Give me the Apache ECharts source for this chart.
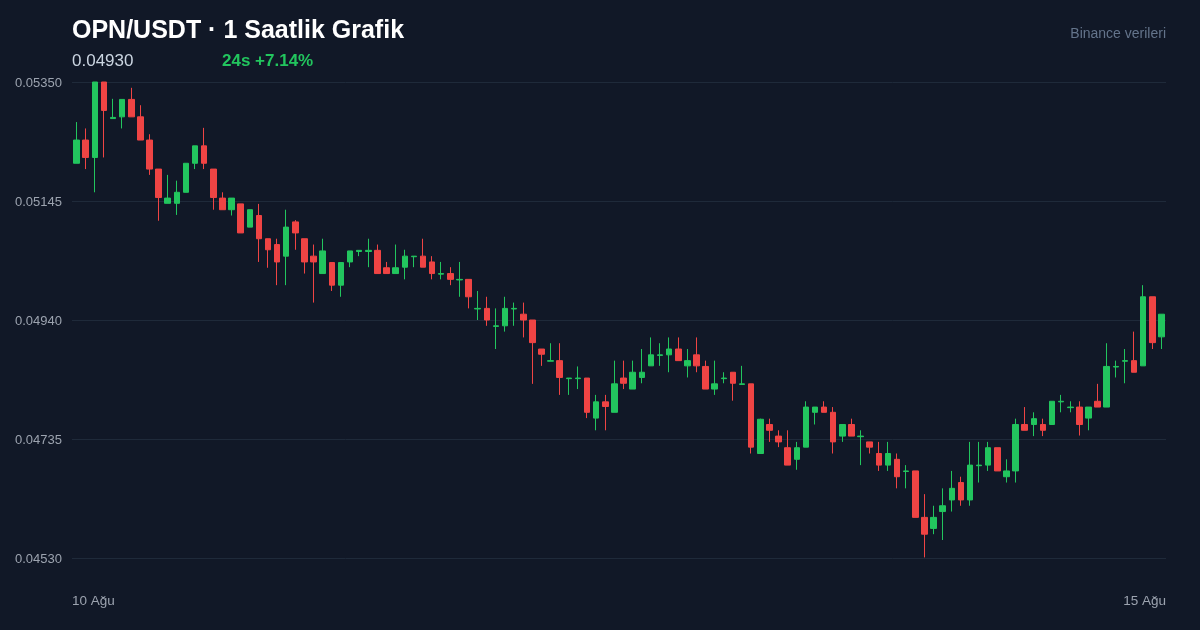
<!DOCTYPE html>
<html>
<head>
<meta charset="utf-8">
<script src="https://cdn.jsdelivr.net/npm/echarts@6/dist/echarts.min.js"></script>
<style>
html,body{margin:0;padding:0;background:#111827;}
#chart{width:1200px;height:630px;}
</style>
</head>
<body>
<div id="chart"></div>
<script>
// ---- data (1h candles, 10 Ağu -> 15 Ağu) ----
const opens = [
0.05210,0.05250,0.05220,0.05350,0.05287,0.05290,0.05320,0.05290,0.05250,0.05200,
0.05141,0.05141,0.05160,0.05210,0.05240,0.05200,0.05150,0.05130,0.05140,0.05100,
0.05120,0.05080,0.05070,0.05050,0.05109,0.05080,0.05050,0.05020,0.05039,0.05000,
0.05040,0.05058,0.05058,0.05060,0.05030,0.05020,0.05031,0.05049,0.05050,0.05040,
0.05019,0.05020,0.05009,0.05010,0.04959,0.04960,0.04929,0.04930,0.04959,0.04950,
0.04940,0.04890,0.04869,0.04870,0.04839,0.04839,0.04840,0.04771,0.04799,0.04781,
0.04840,0.04821,0.04841,0.04861,0.04879,0.04880,0.04890,0.04861,0.04880,0.04860,
0.04821,0.04839,0.04850,0.04829,0.04830,0.04710,0.04760,0.04740,0.04720,0.04700,
0.04721,0.04781,0.04790,0.04781,0.04740,0.04760,0.04739,0.04730,0.04710,0.04690,
0.04700,0.04679,0.04680,0.04600,0.04581,0.04610,0.04630,0.04660,0.04630,0.04689,
0.04690,0.04720,0.04670,0.04680,0.04760,0.04760,0.04760,0.04760,0.04799,0.04789,
0.04790,0.04771,0.04800,0.04790,0.04859,0.04869,0.04870,0.04861,0.04980,0.04911
];
const closes = [
0.05250,0.05220,0.05350,0.05301,0.05289,0.05320,0.05290,0.05250,0.05200,0.05151,
0.05150,0.05160,0.05210,0.05240,0.05210,0.05151,0.05130,0.05150,0.05090,0.05130,
0.05080,0.05061,0.05040,0.05100,0.05090,0.05040,0.05040,0.05059,0.05000,0.05039,
0.05059,0.05060,0.05060,0.05020,0.05020,0.05030,0.05050,0.05050,0.05031,0.05020,
0.05020,0.05010,0.05010,0.04980,0.04960,0.04940,0.04930,0.04960,0.04960,0.04940,
0.04901,0.04881,0.04870,0.04841,0.04840,0.04840,0.04781,0.04799,0.04791,0.04830,
0.04831,0.04850,0.04850,0.04880,0.04880,0.04890,0.04870,0.04870,0.04861,0.04821,
0.04830,0.04840,0.04831,0.04830,0.04721,0.04769,0.04750,0.04730,0.04690,0.04720,
0.04790,0.04790,0.04781,0.04730,0.04760,0.04740,0.04740,0.04721,0.04690,0.04710,
0.04670,0.04680,0.04600,0.04571,0.04600,0.04620,0.04650,0.04630,0.04690,0.04690,
0.04720,0.04680,0.04680,0.04760,0.04750,0.04770,0.04750,0.04800,0.04800,0.04790,
0.04760,0.04790,0.04790,0.04860,0.04860,0.04870,0.04850,0.04980,0.04901,0.04950
];
const lows = [
0.05210,0.05200,0.05160,0.05220,0.05287,0.05270,0.05290,0.05250,0.05190,0.05111,
0.05141,0.05121,0.05160,0.05200,0.05200,0.05130,0.05130,0.05120,0.05090,0.05100,
0.05040,0.05030,0.05000,0.05000,0.05061,0.05020,0.04970,0.05020,0.04990,0.04980,
0.05031,0.05050,0.05031,0.05020,0.05020,0.05020,0.05010,0.05031,0.05031,0.05010,
0.05010,0.05000,0.04980,0.04960,0.04940,0.04930,0.04890,0.04920,0.04930,0.04910,
0.04830,0.04861,0.04869,0.04811,0.04811,0.04821,0.04771,0.04750,0.04750,0.04781,
0.04821,0.04821,0.04831,0.04861,0.04861,0.04850,0.04870,0.04841,0.04850,0.04821,
0.04811,0.04831,0.04801,0.04829,0.04710,0.04710,0.04730,0.04721,0.04690,0.04682,
0.04721,0.04760,0.04781,0.04710,0.04730,0.04740,0.04690,0.04710,0.04680,0.04680,
0.04650,0.04650,0.04600,0.04531,0.04571,0.04561,0.04610,0.04620,0.04620,0.04660,
0.04680,0.04680,0.04660,0.04660,0.04750,0.04740,0.04740,0.04760,0.04781,0.04781,
0.04741,0.04750,0.04790,0.04790,0.04841,0.04831,0.04850,0.04861,0.04890,0.04890
];
const highs = [
0.05281,0.05270,0.05350,0.05350,0.05321,0.05320,0.05340,0.05310,0.05260,0.05200,
0.05190,0.05180,0.05210,0.05240,0.05271,0.05200,0.05160,0.05150,0.05140,0.05130,
0.05140,0.05080,0.05080,0.05130,0.05112,0.05080,0.05070,0.05080,0.05039,0.05039,
0.05059,0.05060,0.05080,0.05070,0.05040,0.05070,0.05061,0.05050,0.05080,0.05050,
0.05040,0.05031,0.05040,0.05010,0.04990,0.04980,0.04960,0.04980,0.04970,0.04970,
0.04940,0.04890,0.04900,0.04900,0.04840,0.04860,0.04840,0.04811,0.04811,0.04870,
0.04870,0.04870,0.04890,0.04910,0.04900,0.04910,0.04910,0.04890,0.04910,0.04870,
0.04870,0.04850,0.04850,0.04861,0.04830,0.04770,0.04770,0.04750,0.04750,0.04730,
0.04800,0.04790,0.04800,0.04790,0.04760,0.04770,0.04750,0.04730,0.04730,0.04730,
0.04710,0.04690,0.04680,0.04640,0.04620,0.04650,0.04680,0.04670,0.04730,0.04730,
0.04730,0.04720,0.04700,0.04770,0.04790,0.04781,0.04770,0.04800,0.04811,0.04800,
0.04800,0.04790,0.04830,0.04900,0.04870,0.04890,0.04920,0.05000,0.04980,0.04950
];
const yTicks = [0.04530, 0.04735, 0.04940, 0.05145, 0.05350];
const dateLabels = ['10 Ağu', '15 Ağu'];
const titleText = 'OPN/USDT · 1 Saatlik Grafik';
const priceText = '0.04930';
const changeText = '24s +7.14%';
const sourceText = 'Binance verileri';

// hourly category keys
const categories = [];
for (let i = 0; i < opens.length; i++) {
  const d = Math.floor(i / 24) + 10, h = i % 24;
  categories.push(d + ' Ağu ' + String(h).padStart(2, '0') + ':00');
}
const candles = opens.map((o, i) => [o, closes[i], lows[i], highs[i]]);

const FONT = "'Liberation Sans', Arial, sans-serif";
const chart = echarts.init(document.getElementById('chart'), null, {renderer: 'canvas'});
chart.setOption({
  backgroundColor: '#111827',
  animation: false,
  textStyle: {fontFamily: FONT},
  title: [
    {text: titleText, left: 72, top: 19, padding: 0,
     textStyle: {color: '#ffffff', fontSize: 25, fontWeight: 'bold', fontFamily: FONT}},
    {text: priceText, left: 72, top: 53, padding: 0,
     textStyle: {color: '#cbd5e1', fontSize: 17, fontWeight: 'normal', fontFamily: FONT}},
    {text: changeText, left: 222, top: 53, padding: 0,
     textStyle: {color: '#22c55e', fontSize: 17, fontWeight: 'bold', fontFamily: FONT}},
    {text: sourceText, right: 34, top: 27, padding: 0,
     textStyle: {color: '#64748b', fontSize: 14, fontWeight: 'normal', fontFamily: FONT}}
  ],
  grid: {left: 72, right: 34, top: 82, bottom: 72, containLabel: false},
  xAxis: [
    {type: 'category', data: categories, boundaryGap: true,
     axisLine: {show: false}, axisTick: {show: false}, axisLabel: {show: false}, splitLine: {show: false}},
    {type: 'category', data: dateLabels, boundaryGap: false, position: 'bottom',
     axisLine: {show: false}, axisTick: {show: false}, splitLine: {show: false},
     axisLabel: {show: true, interval: 0, margin: 36, color: '#9ca3af', fontSize: 13.5, fontFamily: FONT,
                 alignMinLabel: 'left', alignMaxLabel: 'right'}}
  ],
  yAxis: {
    type: 'value', min: yTicks[0], max: yTicks[yTicks.length - 1], scale: true,
    axisLine: {show: false}, axisTick: {show: false}, axisLabel: {show: false}, splitLine: {show: false}
  },
  series: [{
    type: 'candlestick',
    data: candles,
    xAxisIndex: 0,
    barWidth: 6,
    z: 3,
    itemStyle: {
      color: '#22c55e', color0: '#ef4444',
      borderColor: '#22c55e', borderColor0: '#ef4444', borderColorDoji: '#22c55e',
      borderWidth: 1
    },
    markLine: {
      silent: true, z: 1, symbol: ['none', 'none'], precision: 5,
      lineStyle: {color: '#1f2a3a', type: 'solid', width: 1},
      label: {show: true, position: 'start', distance: 10, color: '#9ca3af', fontSize: 13, fontFamily: FONT,
              offset: [0, 1],
              formatter: p => Number(p.value).toFixed(5)},
      emphasis: {disabled: true},
      data: yTicks.map(v => ({yAxis: v}))
    }
  }]
});
</script>
</body>
</html>
